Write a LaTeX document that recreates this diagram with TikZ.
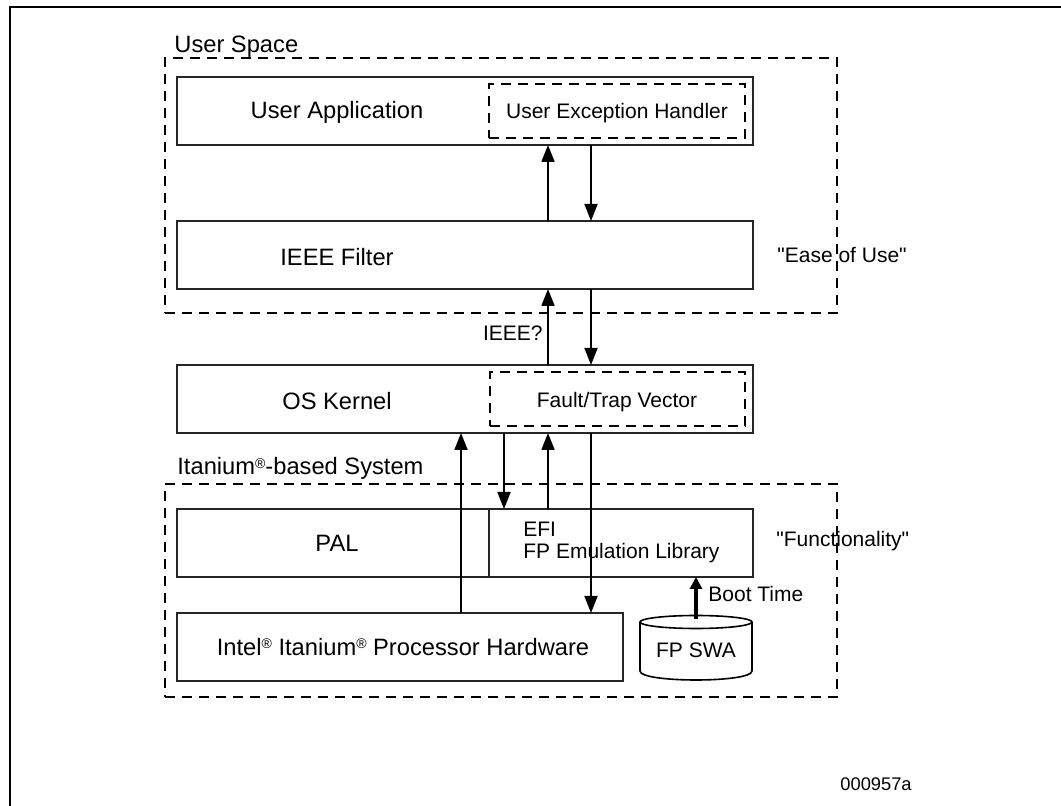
\documentclass[tikz,border=0pt]{standalone}
\usepackage{fontspec}
\setmainfont{Liberation Sans}
\newfontfamily\plainfont{Liberation Sans}[Ligatures=TeXOff]
\usetikzlibrary{arrows.meta}
\newcommand{\regmark}{\raisebox{0.55ex}{\fontsize{7}{8}\selectfont\textregistered}}

\begin{document}
\begin{tikzpicture}[x=0.5pt, y=-0.5pt,
			box/.style={rectangle, draw=black!85, line width=0.8pt, anchor=north west, inner sep=0pt, outer sep=0pt},
			dbox/.style={box, draw=black, dash pattern=on 5pt off 3.5pt, line width=1pt},
			region/.style={box, draw=black, dash pattern=on 5pt off 3.5pt, line width=1.2pt},
			lbl/.style={font=\fontsize{11.85}{14}\selectfont, inner sep=0pt},
			sml/.style={font=\fontsize{10.5}{12.5}\selectfont, inner sep=0pt},
			arr/.style={-{Triangle[length=8.5pt, width=6.5pt]}, line width=0.9pt},
			bootarr/.style={-{Triangle[length=6pt, width=6pt]}, line width=2.4pt}]
		\useasboundingbox (0,0) rectangle (1061,806);
		\draw[line width=1.4pt] (10,806) -- (10,7) -- (1061,7);

		\node[region, minimum width=336pt, minimum height=127.5pt] (userspace) at (165,58) {};
		\node[lbl, anchor=base west] (userspacelbl) at (174,53) {User Space};
		\node[region, minimum width=336pt, minimum height=106.5pt] (itanium) at (165,484) {};
		\node[lbl, anchor=base west] (itaniumlbl) at (177,475) {Itanium\regmark-based System};

		\node[box, minimum width=288pt, minimum height=34pt] (ua) at (177,77) {};
		\node[dbox, minimum width=128pt, minimum height=27pt] (ueh) at (489,84) {};
		\node[box, minimum width=288pt, minimum height=34pt] (ieee) at (177,221) {};
		\node[box, minimum width=288pt, minimum height=34pt] (os) at (177,365) {};
		\node[dbox, minimum width=127.5pt, minimum height=27pt] (ftv) at (490,372) {};
		\node[box, minimum width=288pt, minimum height=34pt] (pal) at (177,509) {};
		\node[box, minimum width=223pt, minimum height=34pt] (hw) at (177,613) {};

		\coordinate (split) at (489,0);
		\coordinate (colA) at (461,0);
		\coordinate (colB) at (504,0);
		\coordinate (colC) at (548,0);
		\coordinate (colD) at (591,0);
		\coordinate (swatop) at (696,619);
		\draw[line width=0.8pt, draw=black!85] (pal.north -| split) -- (pal.south -| split);

		\node[lbl] (ualbl) at (337,112) {User Application};
		\node[sml] (uehlbl) at (617,113) {User Exception Handler};
		\node[lbl] (ieeelbl) at (337,257) {IEEE Filter};
		\node[lbl] (oslbl) at (337,401) {OS Kernel};
		\node[sml] (ftvlbl) at (617,402) {Fault/Trap Vector};
		\node[lbl] (pallbl) at (337,543) {PAL};
		\node[sml, anchor=west] (efilbl) at (523,529) {EFI};
		\node[sml, anchor=west] (fplbl) at (523,553) {FP Emulation Library};
		\node[lbl] (hwlbl) at (403,647) {Intel\regmark{} Itanium\regmark{} Processor Hardware};

		\draw[line width=0.8pt] (640,622) -- (640,671) .. controls (640,683) and (752,683) .. (752,671) -- (752,622);
		\draw[line width=0.8pt] (696,622) ellipse [x radius=56, y radius=6.5];
		\node[sml] (swa) at (696,650) {FP SWA};

		\draw[arr] (ieee.north -| colC) -- (ua.south -| colC);
		\draw[arr] (ua.south -| colD) -- (ieee.north -| colD);
		\draw[arr] (os.north -| colC) -- (ieee.south -| colC);
		\draw[arr] (ieee.south -| colD) -- (os.north -| colD);
		\draw[arr] (hw.north -| colA) -- (os.south -| colA);
		\draw[arr] (os.south -| colB) -- (pal.north -| colB);
		\draw[arr] (pal.north -| colC) -- (os.south -| colC);
		\draw[arr] (os.south -| colD) -- (hw.north -| colD);
		\draw[bootarr] (swatop) -- (pal.south -| swatop);

		\node[sml, anchor=east] (ieeeq) at (543,333) {IEEE?};
		\node[sml, anchor=west] (boot) at (708,594) {Boot Time};
		\node[sml, anchor=west] (ease) at (777,255) {\plainfont "Ease of Use"};
		\node[sml, anchor=west] (func) at (776,541) {\plainfont "Functionality"};
		\node[font=\fontsize{9.15}{11}\selectfont, inner sep=0pt, anchor=west] (figid) at (840,784) {000957a};
	\end{tikzpicture}
\end{document}
